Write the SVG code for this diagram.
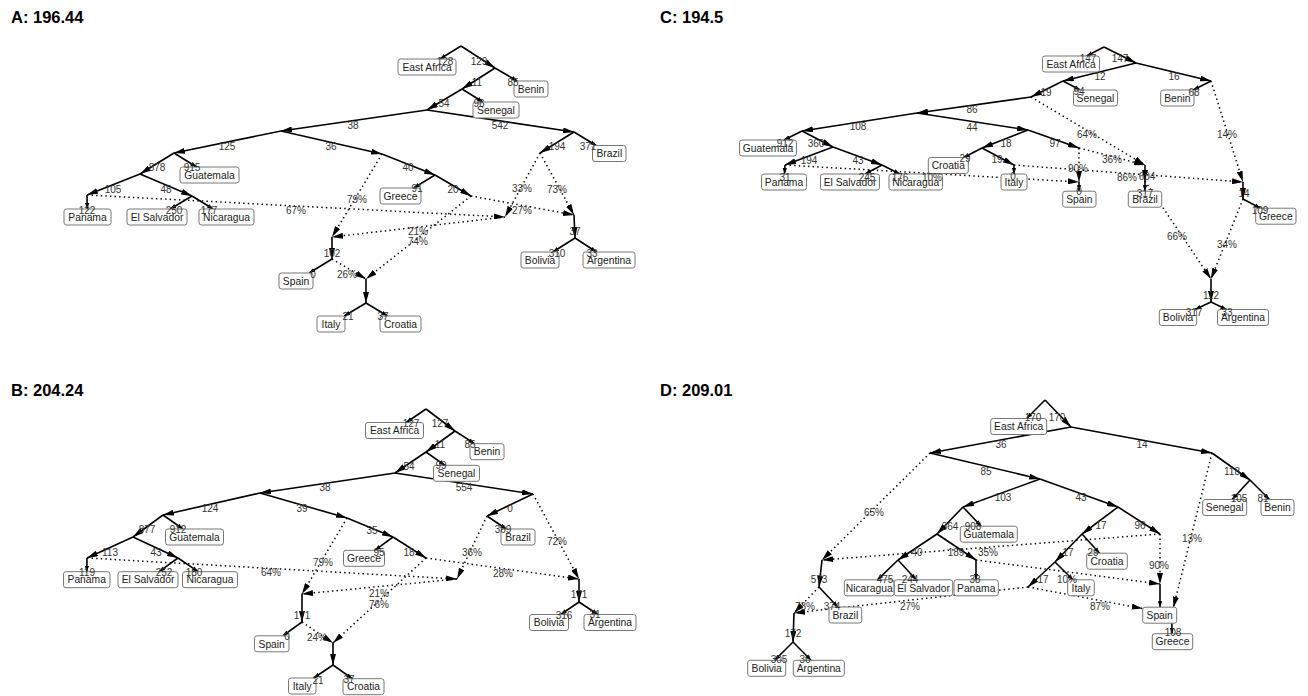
<svg xmlns="http://www.w3.org/2000/svg" width="1308" height="696" viewBox="0 0 1308 696">
<style>
.e{stroke:#000;stroke-width:1.6;fill:none;marker-end:url(#ah)}
.l{stroke:#000;stroke-width:1.6;fill:none;marker-end:url(#al)}
.d{stroke:#000;stroke-width:1.5;fill:none;stroke-dasharray:1.4 3.2;marker-end:url(#ah)}
.n{font-family:"Liberation Sans",Arial,sans-serif;font-size:10px;fill:#333;text-anchor:middle}
.b rect{fill:#fff;stroke:#777;stroke-width:1}
.b text{font-family:"Liberation Sans",Arial,sans-serif;font-size:10.3px;fill:#222;text-anchor:middle}
.t{font-family:"Liberation Sans",Arial,sans-serif;font-size:16.5px;font-weight:bold;fill:#000}
</style>
<defs>
<marker id="ah" viewBox="0 0 11 6" markerWidth="11" markerHeight="6" refX="11" refY="3" orient="auto" markerUnits="userSpaceOnUse"><path d="M0,0L11,3L0,6z" fill="#000"/></marker>
<marker id="al" viewBox="0 0 6 5" markerWidth="6" markerHeight="5" refX="6" refY="2.5" orient="auto" markerUnits="userSpaceOnUse"><path d="M0,0.3L6,2.5L0,4.7z" fill="#000"/></marker>
</defs>
<rect width="1308" height="696" fill="#fff"/>
<text class="t" x="11" y="23">A: 196.44</text>
<text class="t" x="11" y="396">B: 204.24</text>
<text class="t" x="660" y="23">C: 194.5</text>
<text class="t" x="660" y="396">D: 209.01</text>

<!-- ===== Panel A connectors ===== -->
<g id="A-connectors">
<line class="e" x1="461" y1="46" x2="495" y2="68"/>
<line class="e" x1="495" y1="68" x2="462" y2="89"/>
<line class="e" x1="462" y1="89" x2="427" y2="110"/>
<line class="e" x1="427" y1="110" x2="281" y2="131"/>
<line class="e" x1="427" y1="110" x2="574" y2="132"/>
<line class="e" x1="574" y1="132" x2="540" y2="153"/>
<line class="e" x1="281" y1="131" x2="174" y2="153"/>
<line class="e" x1="281" y1="131" x2="382" y2="154"/>
<line class="e" x1="174" y1="153" x2="140" y2="174"/>
<line class="e" x1="140" y1="174" x2="87" y2="195"/>
<line class="e" x1="140" y1="174" x2="192" y2="196"/>
<line class="e" x1="382" y1="154" x2="435" y2="175"/>
<line class="e" x1="435" y1="175" x2="471" y2="196"/>
<line class="e" x1="332" y1="237" x2="332" y2="259"/>
<line class="e" x1="574" y1="215" x2="575" y2="238"/>
<line class="e" x1="366" y1="279" x2="366" y2="303"/>
<line class="l" x1="461" y1="46" x2="439.9" y2="59"/>
<line class="l" x1="495" y1="68" x2="517.3" y2="81"/>
<line class="l" x1="462" y1="89" x2="483" y2="102"/>
<line class="l" x1="574" y1="132" x2="596.2" y2="145.5"/>
<line class="l" x1="174" y1="153" x2="196.6" y2="167"/>
<line class="l" x1="87" y1="195" x2="87.2" y2="209"/>
<line class="l" x1="192" y1="196" x2="170.2" y2="209"/>
<line class="l" x1="192" y1="196" x2="213.2" y2="209"/>
<line class="l" x1="435" y1="175" x2="413.6" y2="188"/>
<line class="l" x1="332" y1="259" x2="309.2" y2="273"/>
<line class="l" x1="366" y1="303" x2="344.2" y2="316"/>
<line class="l" x1="366" y1="303" x2="387.5" y2="316"/>
<line class="l" x1="575" y1="238" x2="552.9" y2="252"/>
<line class="l" x1="575" y1="238" x2="596.5" y2="252"/>
<line class="d" x1="87" y1="195" x2="505" y2="217"/>
<line class="d" x1="540" y1="153" x2="505" y2="217"/>
<line class="d" x1="540" y1="153" x2="574" y2="215"/>
<line class="d" x1="382" y1="154" x2="332" y2="237"/>
<line class="d" x1="505" y1="217" x2="332" y2="237"/>
<line class="d" x1="471" y1="196" x2="574" y2="215"/>
<line class="d" x1="471" y1="196" x2="366" y2="279"/>
<line class="d" x1="332" y1="259" x2="366" y2="279"/>
</g>

<!-- ===== Panel B connectors ===== -->
<g id="B-connectors">
<line class="e" x1="426" y1="409" x2="455" y2="431"/>
<line class="e" x1="455" y1="431" x2="426" y2="452"/>
<line class="e" x1="426" y1="452" x2="395" y2="473"/>
<line class="e" x1="395" y1="473" x2="260" y2="493"/>
<line class="e" x1="395" y1="473" x2="533" y2="494"/>
<line class="e" x1="533" y1="494" x2="487" y2="516"/>
<line class="e" x1="260" y1="493" x2="163" y2="515"/>
<line class="e" x1="260" y1="493" x2="347" y2="518"/>
<line class="e" x1="163" y1="515" x2="133" y2="537"/>
<line class="e" x1="133" y1="537" x2="87" y2="558"/>
<line class="e" x1="133" y1="537" x2="178" y2="558"/>
<line class="e" x1="347" y1="518" x2="393" y2="537"/>
<line class="e" x1="393" y1="537" x2="426" y2="558"/>
<line class="e" x1="302" y1="594" x2="302" y2="622"/>
<line class="e" x1="579" y1="579" x2="579" y2="602"/>
<line class="e" x1="333" y1="643" x2="333" y2="665"/>
<line class="l" x1="426" y1="409" x2="406.2" y2="422.5"/>
<line class="l" x1="455" y1="431" x2="474.6" y2="443.7"/>
<line class="l" x1="426" y1="452" x2="444.9" y2="465.3"/>
<line class="l" x1="487" y1="516" x2="506.2" y2="529"/>
<line class="l" x1="163" y1="515" x2="183" y2="529"/>
<line class="l" x1="87" y1="558" x2="86.8" y2="571.7"/>
<line class="l" x1="178" y1="558" x2="159.1" y2="571.7"/>
<line class="l" x1="178" y1="558" x2="198.2" y2="571.7"/>
<line class="l" x1="393" y1="537" x2="374.9" y2="550.3"/>
<line class="l" x1="302" y1="622" x2="282.8" y2="635.8"/>
<line class="l" x1="333" y1="665" x2="313.8" y2="678"/>
<line class="l" x1="333" y1="665" x2="352.2" y2="678.7"/>
<line class="l" x1="579" y1="602" x2="560.7" y2="614.5"/>
<line class="l" x1="579" y1="602" x2="597.9" y2="614.5"/>
<line class="d" x1="87" y1="558" x2="457" y2="579"/>
<line class="d" x1="487" y1="516" x2="457" y2="579"/>
<line class="d" x1="533" y1="494" x2="579" y2="579"/>
<line class="d" x1="347" y1="518" x2="302" y2="594"/>
<line class="d" x1="457" y1="579" x2="302" y2="594"/>
<line class="d" x1="426" y1="558" x2="579" y2="579"/>
<line class="d" x1="426" y1="558" x2="333" y2="643"/>
<line class="d" x1="302" y1="622" x2="333" y2="643"/>
</g>

<!-- ===== Panel C connectors ===== -->
<g id="C-connectors">
<line class="e" x1="1104" y1="47" x2="1136" y2="63"/>
<line class="e" x1="1136" y1="63" x2="1063" y2="81"/>
<line class="e" x1="1136" y1="63" x2="1211" y2="81"/>
<line class="e" x1="1063" y1="81" x2="1031" y2="97"/>
<line class="e" x1="1031" y1="97" x2="917" y2="113"/>
<line class="e" x1="917" y1="113" x2="802" y2="131"/>
<line class="e" x1="917" y1="113" x2="1028" y2="130"/>
<line class="e" x1="802" y1="131" x2="833" y2="147"/>
<line class="e" x1="833" y1="147" x2="785" y2="165"/>
<line class="e" x1="833" y1="147" x2="882" y2="165"/>
<line class="e" x1="1028" y1="130" x2="982" y2="148"/>
<line class="e" x1="1028" y1="130" x2="1079" y2="148"/>
<line class="e" x1="982" y1="148" x2="1014" y2="165"/>
<line class="e" x1="1145" y1="165" x2="1145" y2="181"/>
<line class="e" x1="1243" y1="182" x2="1243" y2="199"/>
<line class="e" x1="1211" y1="279" x2="1211" y2="302"/>
<line class="l" x1="1104" y1="47" x2="1086.5" y2="56"/>
<line class="l" x1="1063" y1="81" x2="1080.2" y2="90"/>
<line class="l" x1="1211" y1="81" x2="1193.2" y2="90"/>
<line class="l" x1="802" y1="131" x2="784" y2="140"/>
<line class="l" x1="785" y1="165" x2="784.5" y2="174"/>
<line class="l" x1="882" y1="165" x2="865.1" y2="174"/>
<line class="l" x1="882" y1="165" x2="899.8" y2="174"/>
<line class="l" x1="982" y1="148" x2="963.7" y2="157.5"/>
<line class="l" x1="1014" y1="165" x2="1014" y2="174"/>
<line class="l" x1="1079" y1="182" x2="1079" y2="191.2"/>
<line class="l" x1="1145" y1="181" x2="1145" y2="191.2"/>
<line class="l" x1="1243" y1="199" x2="1260.5" y2="208.2"/>
<line class="l" x1="1211" y1="302" x2="1195" y2="309.5"/>
<line class="l" x1="1211" y1="302" x2="1226.5" y2="309.5"/>
<line class="d" x1="1031" y1="97" x2="1145" y2="165"/>
<line class="d" x1="1079" y1="148" x2="1145" y2="165"/>
<line class="d" x1="1079" y1="148" x2="1079" y2="182"/>
<line class="d" x1="785" y1="165" x2="1079" y2="182"/>
<line class="d" x1="1014" y1="165" x2="1243" y2="182"/>
<line class="d" x1="1211" y1="81" x2="1243" y2="182"/>
<line class="d" x1="1145" y1="181" x2="1211" y2="279"/>
<line class="d" x1="1243" y1="199" x2="1211" y2="279"/>
</g>

<!-- ===== Panel D connectors ===== -->
<g id="D-connectors">
<line class="e" x1="1045" y1="400" x2="1071" y2="427"/>
<line class="e" x1="1071" y1="427" x2="1212" y2="453"/>
<line class="e" x1="1071" y1="427" x2="930" y2="453"/>
<line class="e" x1="1212" y1="453" x2="1250" y2="480"/>
<line class="e" x1="930" y1="453" x2="1040" y2="479"/>
<line class="e" x1="1040" y1="479" x2="963" y2="507"/>
<line class="e" x1="1040" y1="479" x2="1118" y2="507"/>
<line class="e" x1="963" y1="507" x2="937" y2="534"/>
<line class="e" x1="1118" y1="507" x2="1160" y2="534"/>
<line class="e" x1="1118" y1="507" x2="1082" y2="534"/>
<line class="e" x1="1082" y1="534" x2="1055" y2="562"/>
<line class="e" x1="1055" y1="562" x2="1028" y2="587"/>
<line class="e" x1="937" y1="534" x2="898" y2="560"/>
<line class="e" x1="937" y1="534" x2="976" y2="560"/>
<line class="e" x1="822" y1="560" x2="819" y2="587"/>
<line class="e" x1="794" y1="613" x2="793" y2="642"/>
<line class="l" x1="1045" y1="400" x2="1026.6" y2="418.5"/>
<line class="l" x1="1250" y1="480" x2="1232.1" y2="499.5"/>
<line class="l" x1="1250" y1="480" x2="1269.5" y2="499.5"/>
<line class="l" x1="963" y1="507" x2="981.2" y2="526.2"/>
<line class="l" x1="1082" y1="534" x2="1099.6" y2="553.2"/>
<line class="l" x1="1055" y1="562" x2="1072.9" y2="579.8"/>
<line class="l" x1="976" y1="560" x2="976" y2="579.8"/>
<line class="l" x1="898" y1="560" x2="877.4" y2="579.8"/>
<line class="l" x1="898" y1="560" x2="916.2" y2="579.8"/>
<line class="l" x1="819" y1="587" x2="837.8" y2="607"/>
<line class="l" x1="1160" y1="584" x2="1160" y2="607.2"/>
<line class="l" x1="1171.7" y1="614" x2="1172" y2="633.7"/>
<line class="l" x1="793" y1="642" x2="774.7" y2="660.3"/>
<line class="l" x1="793" y1="642" x2="811" y2="660.3"/>
<line class="d" x1="930" y1="453" x2="822" y2="560"/>
<line class="d" x1="1160" y1="534" x2="822" y2="560"/>
<line class="d" x1="1160" y1="534" x2="1160" y2="584"/>
<line class="d" x1="976" y1="560" x2="1160" y2="584"/>
<line class="d" x1="1028" y1="587" x2="1142.7" y2="608.6"/>
<line class="d" x1="1212" y1="453" x2="1173.3" y2="607.7"/>
<line class="d" x1="819" y1="587" x2="794" y2="613"/>
<line class="d" x1="1028" y1="587" x2="794" y2="613"/>
</g>

<!-- ===== Leaf nodes ===== -->
<g id="A-EastAfrica" class="b"><rect x="398" y="59" width="58" height="16" rx="2.5"/><text x="427" y="70.7">East Africa</text></g>
<g id="A-Benin" class="b"><rect x="514" y="81" width="34" height="16" rx="2.5"/><text x="531" y="92.7">Benin</text></g>
<g id="A-Senegal" class="b"><rect x="473" y="102" width="46" height="16" rx="2.5"/><text x="496" y="113.7">Senegal</text></g>
<g id="A-Brazil" class="b"><rect x="592.5" y="145.5" width="33.5" height="16" rx="2.5"/><text x="609.3" y="157.2">Brazil</text></g>
<g id="A-Guatemala" class="b"><rect x="180" y="167" width="59" height="16" rx="2.5"/><text x="209.5" y="178.7">Guatemala</text></g>
<g id="A-Panama" class="b"><rect x="64" y="209" width="47" height="16" rx="2.5"/><text x="87.5" y="220.7">Panama</text></g>
<g id="A-ElSalvador" class="b"><rect x="127" y="209" width="60" height="16" rx="2.5"/><text x="157" y="220.7">El Salvador</text></g>
<g id="A-Nicaragua" class="b"><rect x="199" y="209" width="55" height="16" rx="2.5"/><text x="226.5" y="220.7">Nicaragua</text></g>
<g id="A-Greece" class="b"><rect x="380" y="188" width="41" height="16" rx="2.5"/><text x="400.5" y="199.7">Greece</text></g>
<g id="A-Spain" class="b"><rect x="279" y="273" width="34" height="16" rx="2.5"/><text x="296" y="284.7">Spain</text></g>
<g id="A-Italy" class="b"><rect x="317" y="316" width="28" height="16" rx="2.5"/><text x="331" y="327.7">Italy</text></g>
<g id="A-Croatia" class="b"><rect x="380" y="316" width="41" height="16" rx="2.5"/><text x="400.5" y="327.7">Croatia</text></g>
<g id="A-Bolivia" class="b"><rect x="521" y="252" width="38" height="16" rx="2.5"/><text x="540" y="263.7">Bolivia</text></g>
<g id="A-Argentina" class="b"><rect x="583" y="252" width="52" height="16" rx="2.5"/><text x="609" y="263.7">Argentina</text></g>

<g id="B-EastAfrica" class="b"><rect x="365.5" y="422.5" width="58" height="16" rx="2.5"/><text x="394.5" y="434.2">East Africa</text></g>
<g id="B-Benin" class="b"><rect x="470" y="443.7" width="34" height="16" rx="2.5"/><text x="487" y="455.4">Benin</text></g>
<g id="B-Senegal" class="b"><rect x="433.5" y="465.3" width="46" height="16" rx="2.5"/><text x="456.5" y="477">Senegal</text></g>
<g id="B-Brazil" class="b"><rect x="501" y="529" width="34" height="16" rx="2.5"/><text x="518" y="540.7">Brazil</text></g>
<g id="B-Bolivia" class="b"><rect x="529.5" y="614.5" width="39" height="16" rx="2.5"/><text x="549" y="626.2">Bolivia</text></g>
<g id="B-Argentina" class="b"><rect x="584" y="614.5" width="52" height="16" rx="2.5"/><text x="610" y="626.2">Argentina</text></g>
<g id="B-Greece" class="b"><rect x="343.5" y="550.3" width="41" height="16" rx="2.5"/><text x="364" y="562">Greece</text></g>
<g id="B-Croatia" class="b"><rect x="343" y="678.7" width="41" height="16" rx="2.5"/><text x="363.5" y="690.4">Croatia</text></g>
<g id="B-Guatemala" class="b"><rect x="165.5" y="529" width="58" height="16" rx="2.5"/><text x="194.5" y="540.7">Guatemala</text></g>
<g id="B-Panama" class="b"><rect x="63.5" y="571.7" width="46.5" height="16" rx="2.5"/><text x="86.7" y="583.4">Panama</text></g>
<g id="B-ElSalvador" class="b"><rect x="118" y="571.7" width="60" height="16" rx="2.5"/><text x="148" y="583.4">El Salvador</text></g>
<g id="B-Nicaragua" class="b"><rect x="182.5" y="571.7" width="55" height="16" rx="2.5"/><text x="210" y="583.4">Nicaragua</text></g>
<g id="B-Spain" class="b"><rect x="254.5" y="635.8" width="34.5" height="16" rx="2.5"/><text x="271.7" y="647.5">Spain</text></g>
<g id="B-Italy" class="b"><rect x="288.5" y="678" width="27.5" height="16" rx="2.5"/><text x="302.2" y="689.7">Italy</text></g>

<g id="C-EastAfrica" class="b"><rect x="1042.5" y="56" width="57" height="16" rx="2.5"/><text x="1071" y="67.7">East Africa</text></g>
<g id="C-Senegal" class="b"><rect x="1073.5" y="90" width="44" height="16" rx="2.5"/><text x="1095.5" y="101.7">Senegal</text></g>
<g id="C-Benin" class="b"><rect x="1160.7" y="90" width="33.3" height="16" rx="2.5"/><text x="1177.3" y="101.7">Benin</text></g>
<g id="C-Guatemala" class="b"><rect x="739.5" y="140" width="57" height="16" rx="2.5"/><text x="768" y="151.7">Guatemala</text></g>
<g id="C-Panama" class="b"><rect x="761.5" y="174" width="45" height="16" rx="2.5"/><text x="784" y="185.7">Panama</text></g>
<g id="C-ElSalvador" class="b"><rect x="820.5" y="174" width="59" height="16" rx="2.5"/><text x="850" y="185.7">El Salvador</text></g>
<g id="C-Nicaragua" class="b"><rect x="889" y="174" width="53.5" height="16" rx="2.5"/><text x="915.7" y="185.7">Nicaragua</text></g>
<g id="C-Croatia" class="b"><rect x="928.3" y="157.5" width="40" height="16" rx="2.5"/><text x="948.3" y="169.2">Croatia</text></g>
<g id="C-Italy" class="b"><rect x="1001" y="174" width="26" height="16" rx="2.5"/><text x="1014" y="185.7">Italy</text></g>
<g id="C-Spain" class="b"><rect x="1062.7" y="191.2" width="33.3" height="16" rx="2.5"/><text x="1079.3" y="202.9">Spain</text></g>
<g id="C-Brazil" class="b"><rect x="1128.3" y="191.2" width="33.4" height="16" rx="2.5"/><text x="1145" y="202.9">Brazil</text></g>
<g id="C-Greece" class="b"><rect x="1255.7" y="208.2" width="40.3" height="16" rx="2.5"/><text x="1275.8" y="219.9">Greece</text></g>
<g id="C-Bolivia" class="b"><rect x="1159.3" y="309.5" width="37.4" height="16" rx="2.5"/><text x="1178" y="321.2">Bolivia</text></g>
<g id="C-Argentina" class="b"><rect x="1217.5" y="309.5" width="51" height="16" rx="2.5"/><text x="1243" y="321.2">Argentina</text></g>

<g id="D-EastAfrica" class="b"><rect x="990.7" y="418.5" width="56" height="16" rx="2.5"/><text x="1018.7" y="430.2">East Africa</text></g>
<g id="D-Senegal" class="b"><rect x="1202.7" y="499.5" width="44" height="16" rx="2.5"/><text x="1224.7" y="511.2">Senegal</text></g>
<g id="D-Benin" class="b"><rect x="1261" y="499.5" width="33" height="16" rx="2.5"/><text x="1277.5" y="511.2">Benin</text></g>
<g id="D-Guatemala" class="b"><rect x="960.3" y="526.2" width="57" height="16" rx="2.5"/><text x="988.8" y="537.9">Guatemala</text></g>
<g id="D-Croatia" class="b"><rect x="1086.7" y="553.2" width="40.6" height="16" rx="2.5"/><text x="1107" y="564.9">Croatia</text></g>
<g id="D-Italy" class="b"><rect x="1067.7" y="579.8" width="26.6" height="16" rx="2.5"/><text x="1081" y="591.5">Italy</text></g>
<g id="D-Panama" class="b"><rect x="954" y="579.8" width="44.3" height="16" rx="2.5"/><text x="976.2" y="591.5">Panama</text></g>
<g id="D-Nicaragua" class="b"><rect x="844.3" y="579.8" width="49.7" height="16" rx="2.5"/><text x="869.2" y="591.5">Nicaragua</text></g>
<g id="D-ElSalvador" class="b"><rect x="894.3" y="579.8" width="58.4" height="16" rx="2.5"/><text x="923.5" y="591.5">El Salvador</text></g>
<g id="D-Brazil" class="b"><rect x="829" y="607" width="32.7" height="16" rx="2.5"/><text x="845.3" y="618.7">Brazil</text></g>
<g id="D-Spain" class="b"><rect x="1142.7" y="607.2" width="34" height="16" rx="2.5"/><text x="1159.7" y="618.9">Spain</text></g>
<g id="D-Greece" class="b"><rect x="1152.3" y="633.7" width="40.4" height="16" rx="2.5"/><text x="1172.5" y="645.4">Greece</text></g>
<g id="D-Bolivia" class="b"><rect x="747.7" y="660.3" width="38" height="16" rx="2.5"/><text x="766.7" y="672">Bolivia</text></g>
<g id="D-Argentina" class="b"><rect x="793.3" y="660.3" width="51" height="16" rx="2.5"/><text x="818.8" y="672">Argentina</text></g>

<!-- ===== Edge labels ===== -->
<g id="A-edge-labels" class="n">
<text x="445" y="64.6">128</text><text x="479" y="64.6">129</text><text x="513" y="85.6">85</text><text x="477" y="85.6">11</text>
<text x="479" y="106.6">96</text><text x="444" y="106.6">54</text><text x="353" y="128.6">38</text><text x="500" y="128.6">542</text>
<text x="588" y="149.6">371</text><text x="557" y="149.6">194</text><text x="227" y="149.6">125</text><text x="331" y="149.6">36</text>
<text x="192" y="170.6">915</text><text x="157" y="170.6">878</text><text x="113" y="192.6">105</text><text x="166" y="192.6">48</text>
<text x="87" y="213.6">122</text><text x="174" y="213.6">250</text><text x="209" y="213.6">177</text><text x="408" y="170.6">40</text>
<text x="417" y="191.6">91</text><text x="453" y="192.6">20</text><text x="332" y="256.6">102</text><text x="313" y="277.6">0</text>
<text x="575" y="234.6">37</text><text x="557" y="256.6">310</text><text x="592" y="256.6">33</text><text x="348" y="319.6">21</text><text x="383" y="319.6">37</text>
<text x="296" y="213.6">67%</text><text x="522" y="191.6">33%</text><text x="557" y="192.6">73%</text><text x="357" y="202.6">79%</text>
<text x="418" y="234.6">21%</text><text x="522" y="213.6">27%</text><text x="418" y="244.6">74%</text><text x="347" y="277.6">26%</text>
</g>
<g id="B-edge-labels" class="n">
<text x="411" y="426.6">127</text><text x="440" y="426.6">127</text><text x="470" y="447.6">85</text><text x="440" y="447.6">11</text>
<text x="441" y="468.6">99</text><text x="409" y="469.6">54</text><text x="325" y="490.6">38</text><text x="464" y="490.6">554</text>
<text x="510" y="511.6">0</text><text x="503" y="532.6">369</text><text x="210" y="511.6">124</text><text x="302" y="511.6">39</text>
<text x="178" y="532.6">912</text><text x="147" y="532.6">877</text><text x="110" y="555.6">113</text><text x="156" y="555.6">43</text>
<text x="87" y="575.6">119</text><text x="164" y="575.6">252</text><text x="194" y="575.6">180</text><text x="372" y="533.6">35</text>
<text x="379" y="555.6">95</text><text x="409" y="555.6">18</text><text x="302" y="618.6">171</text><text x="287" y="639.6">0</text>
<text x="579" y="597.6">171</text><text x="564" y="618.6">316</text><text x="595" y="617.6">31</text><text x="318" y="683.6">21</text><text x="349" y="682.6">37</text>
<text x="271" y="575.6">64%</text><text x="323" y="565.6">79%</text><text x="472" y="555.6">36%</text><text x="557" y="544.6">72%</text>
<text x="503" y="576.6">28%</text><text x="379" y="596.6">21%</text><text x="379" y="607.6">76%</text><text x="317" y="640.6">24%</text>
</g>
<g id="C-edge-labels" class="n">
<text x="1088" y="61.6">147</text><text x="1120" y="61.6">147</text><text x="1100" y="79.6">12</text><text x="1174" y="79.6">16</text>
<text x="1194" y="95.6">68</text><text x="1079" y="94.6">94</text><text x="1046" y="95.6">19</text><text x="972" y="112.6">86</text>
<text x="858" y="129.6">108</text><text x="972" y="130.6">44</text><text x="785" y="146.6">912</text><text x="816" y="146.6">360</text>
<text x="809" y="163.6">194</text><text x="858" y="163.6">43</text><text x="785" y="180.6">31</text><text x="867" y="180.6">245</text>
<text x="900" y="180.6">176</text><text x="1006" y="146.6">18</text><text x="1055" y="146.6">97</text><text x="965" y="161.6">29</text>
<text x="997" y="162.6">19</text><text x="1013" y="179.6">0</text><text x="1079" y="194.6">0</text><text x="1147" y="179.6">604</text>
<text x="1145" y="196.6">317</text><text x="1244" y="196.6">14</text><text x="1260" y="213.6">109</text><text x="1211" y="298.6">112</text>
<text x="1194" y="315.6">317</text><text x="1227" y="315.6">33</text>
<text x="932" y="180.6">10%</text><text x="1087" y="137.6">64%</text><text x="1112" y="162.6">36%</text><text x="1078" y="171.6">90%</text>
<text x="1127" y="180.6">86%</text><text x="1227" y="137.6">14%</text><text x="1177" y="239.6">66%</text><text x="1227" y="247.6">34%</text>
</g>
<g id="D-edge-labels" class="n">
<text x="1033" y="420.6">170</text><text x="1057" y="420.6">170</text><text x="1142" y="447.6">14</text><text x="1001" y="447.6">36</text>
<text x="1232" y="474.6">118</text><text x="1239" y="501.6">105</text><text x="1263" y="501.6">81</text><text x="986" y="474.6">85</text>
<text x="1003" y="500.6">103</text><text x="1081" y="500.6">43</text><text x="1140" y="528.6">96</text><text x="1101" y="528.6">17</text>
<text x="1093" y="555.6">29</text><text x="1068" y="555.6">17</text><text x="1043" y="582.6">17</text><text x="950" y="529.6">364</text>
<text x="973" y="529.6">908</text><text x="917" y="555.6">40</text><text x="956" y="555.6">189</text><text x="975" y="582.6">38</text>
<text x="885" y="582.6">475</text><text x="910" y="582.6">244</text><text x="819" y="582.6">573</text><text x="832" y="609.6">374</text>
<text x="793" y="636.6">172</text><text x="779" y="662.6">305</text><text x="805" y="662.6">36</text><text x="1173" y="635.6">108</text>
<text x="874" y="515.6">65%</text><text x="988" y="555.6">35%</text><text x="1159" y="568.6">90%</text><text x="1067" y="582.6">10%</text>
<text x="1100" y="609.6">87%</text><text x="1192" y="541.6">13%</text><text x="805" y="609.6">73%</text><text x="910" y="609.6">27%</text>
</g>
</svg>
